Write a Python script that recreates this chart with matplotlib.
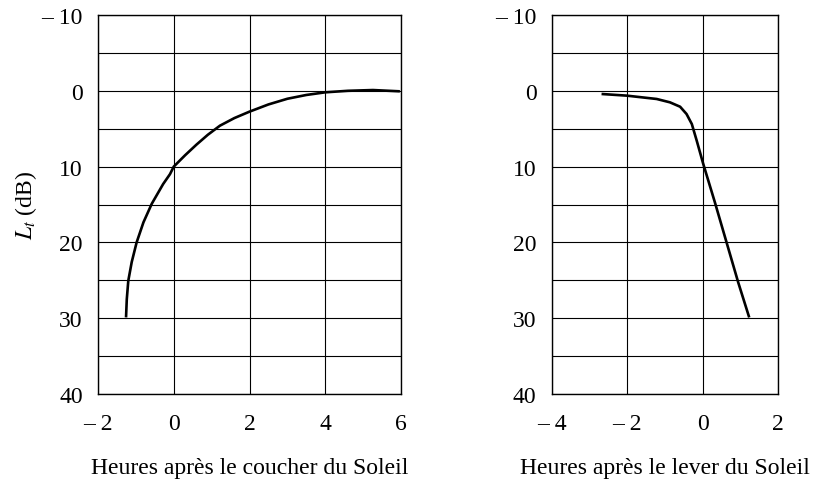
import matplotlib
matplotlib.use("Agg")
import matplotlib.pyplot as plt

plt.rcParams['font.family'] = ['Liberation Serif', 'DejaVu Serif']
plt.rcParams['mathtext.fontset'] = 'stix'

# Sunset (left panel)
sunset_hours = [-1.26, -1.24, -1.20, -1.11, -0.98, -0.80, -0.58, -0.28, -0.10, 0.0, 0.3, 0.6, 0.9, 1.22, 1.6, 2.0, 2.5, 3.0, 3.5, 4.0, 4.6, 5.26, 5.97]
sunset_db = [29.9, 27.5, 25.05, 22.6, 20.0, 17.35, 14.9, 12.3, 11.0, 10.0, 8.5, 7.1, 5.8, 4.6, 3.6, 2.75, 1.8, 1.05, 0.55, 0.2, 0.0, -0.1, 0.07]

# Sunrise (right panel)
sunrise_hours = [-2.68, -2.01, -1.22, -0.87, -0.60, -0.43, -0.29, -0.16, 0.01, 0.32, 0.63, 0.94, 1.23]
sunrise_db = [0.42, 0.64, 1.08, 1.52, 2.1, 3.06, 4.38, 6.58, 9.6, 14.7, 20.0, 25.3, 29.9]

y_ticks = [-10, 0, 10, 20, 30, 40]
y_ticklabels = ['\u2013 10', '0', '10', '20', '30', '40']
left_xticks = [-2, 0, 2, 4, 6]
left_xticklabels = ['\u2013 2', '0', '2', '4', '6']
right_xticks = [-4, -2, 0, 2]
right_xticklabels = ['\u2013 4', '\u2013 2', '0', '2']

fig = plt.figure(figsize=(8.17, 4.81), dpi=100)
ax1 = fig.add_axes([98/817, 1-395/481, (401-98)/817, (395-16)/481])
ax2 = fig.add_axes([551.7/817, 1-395/481, (778.3-551.7)/817, (395-16)/481])

fs = 17
for ax, xs, ys, xt, xtl, xl, xlab in [
    (ax1, sunset_hours, sunset_db, left_xticks, left_xticklabels, (-2, 6), 'Heures après le coucher du Soleil'),
    (ax2, sunrise_hours, sunrise_db, right_xticks, right_xticklabels, (-4, 2), 'Heures après le lever du Soleil'),
]:
    ax.plot(xs, ys, color='black', lw=1.9, solid_capstyle='butt', solid_joinstyle='round', zorder=3)
    ax.set_xlim(*xl)
    ax.set_ylim(40, -10)
    ax.set_xticks(xt)
    ax.set_xticklabels(xtl, fontsize=fs)
    ax.set_yticks(y_ticks)
    ax.set_yticklabels(y_ticklabels, fontsize=fs)
    ax.set_yticks(range(-10, 41, 5), minor=True)
    ax.grid(True, which='both', color='black', lw=0.8)
    ax.tick_params(which='both', length=0)
    ax.tick_params(axis='y', pad=11)
    ax.tick_params(axis='x', pad=14)
    for s in ax.spines.values():
        s.set_linewidth(1.0)
        s.set_color('black')
    ax.set_xlabel(xlab, fontsize=fs, labelpad=16)

ax1.set_ylabel(r'$L_t$ (dB)', fontsize=fs, labelpad=2)

fig.savefig('out.png', dpi=100)
